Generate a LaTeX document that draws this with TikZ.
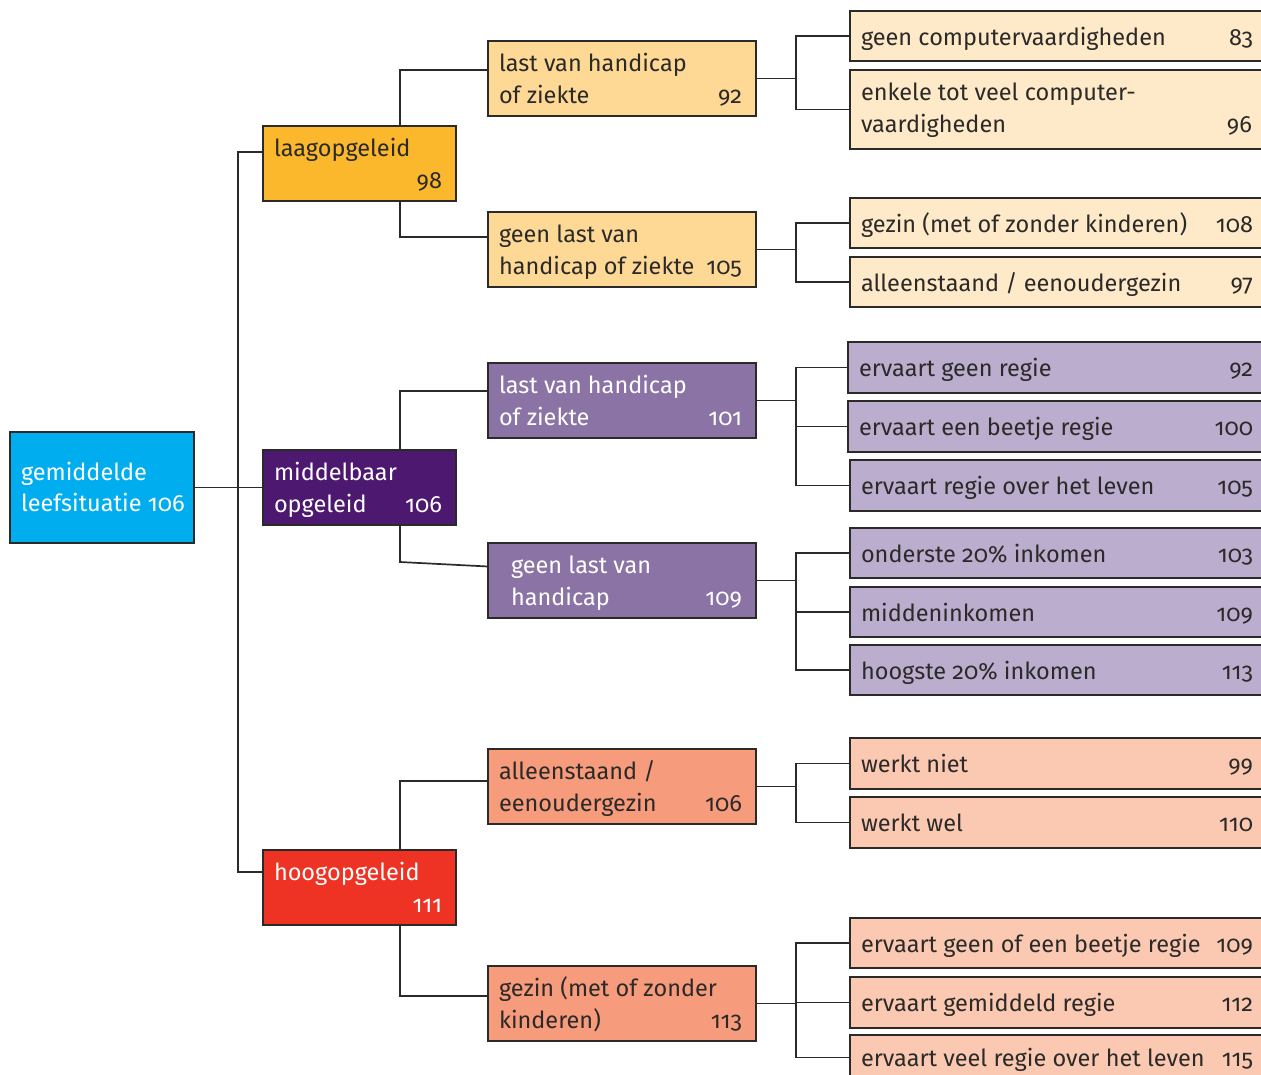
\documentclass[tikz,border=0pt]{standalone}
\usepackage{fontspec}
\setmainfont{Fira Sans}[Numbers=OldStyle]
\usetikzlibrary{calc}
\definecolor{lc}{HTML}{2B2A29}
\definecolor{dk}{HTML}{2B2A29}
\definecolor{cRoot}{HTML}{00AEEF}
\definecolor{cLo}{HTML}{FBB82D}
\definecolor{cLy}{HTML}{FED995}
\definecolor{cLz}{HTML}{FEE9C8}
\definecolor{cMo}{HTML}{4D1870}
\definecolor{cMy}{HTML}{8B74A5}
\definecolor{cMz}{HTML}{BAADCD}
\definecolor{cHo}{HTML}{EE3224}
\definecolor{cHy}{HTML}{F69B7B}
\definecolor{cHz}{HTML}{FBC9B2}
\tikzset{
  box/.style={draw=lc, line width=1.7pt, inner sep=0pt, outer sep=0pt},
  txt/.style={inner sep=0pt, outer sep=0pt, font=\fontsize{23.5}{32}\selectfont},
  conn/.style={draw=lc, line width=1.7pt},
  root/.style={box, fill=cRoot}, root text/.style={txt, text=white},
  lo/.style={box, fill=cLo}, lo text/.style={txt, text=dk},
  ly/.style={box, fill=cLy}, ly text/.style={txt, text=dk},
  lz/.style={box, fill=cLz}, lz text/.style={txt, text=dk},
  mo/.style={box, fill=cMo}, mo text/.style={txt, text=white},
  my/.style={box, fill=cMy}, my text/.style={txt, text=white},
  mz/.style={box, fill=cMz}, mz text/.style={txt, text=dk},
  ho/.style={box, fill=cHo}, ho text/.style={txt, text=white},
  hy/.style={box, fill=cHy}, hy text/.style={txt, text=dk},
  hz/.style={box, fill=cHz}, hz text/.style={txt, text=dk},
}
% two-line box: name, style, x1, y1, x2, y2, line1, line2, number
\newcommand\tbox[9]{%
  \node[#2, anchor=north west, minimum width={(#5-#3)*1pt}, minimum height={(#6-#4)*1pt}] (#1) at (#3,#4) {};
  \node[#2 text, anchor=base west] (#1a) at ({#3+11},{#4+30}) {#7};
  \node[#2 text, anchor=base west] (#1b) at ({#3+11},{#4+62}) {#8};
  \node[#2 text, anchor=base east] (#1n) at ({#5-14},{#4+62}) {#9};
}
% one-line box at right: name, style, x1, y1, y2, text, number
\newcommand\obox[7]{%
  \node[#2, anchor=north west, minimum width={(1266-#3)*1pt}, minimum height={(#5-#4)*1pt}] (#1) at (#3,#4) {};
  \node[#2 text, anchor=base west] (#1a) at ({#3+11},{(#4+#5)/2+9}) {#6};
  \node[#2 text, anchor=base east] (#1n) at (1253,{(#4+#5)/2+9}) {#7};
}
\begin{document}
\begin{tikzpicture}[x=1pt,y=-1pt]
\useasboundingbox[fill=white] (0,0) rectangle (1261,1074);
% root
\node[root, anchor=north west, minimum width=184pt, minimum height=111pt] (root) at (10,432) {};
\node[root text, anchor=base west] (roota) at (21,480) {gemiddelde};
\node[root text, anchor=base west] (rootb) at (21,511) {leefsituatie 106};
% level 1
\tbox{laag}{lo}{263}{126}{456}{201}{laagopgeleid}{}{98}
\tbox{midd}{mo}{263}{450}{456}{525}{middelbaar}{opgeleid}{106}
\tbox{hoog}{ho}{263}{850}{456}{925}{hoogopgeleid}{}{111}
% level 2
\tbox{la}{ly}{488}{41}{756}{116}{last van handicap}{of ziekte}{92}
\tbox{lb}{ly}{488}{212}{756}{287}{geen last van}{handicap of ziekte}{105}
\tbox{ma}{my}{488}{363}{756}{438}{last van handicap}{of ziekte}{101}
\node[my, anchor=north west, minimum width=268pt, minimum height=75pt] (mb) at (488,543) {};
\node[my text, anchor=base west] (mba) at (511,573) {geen last van};
\node[my text, anchor=base west] (mbb) at (511,605) {handicap};
\node[my text, anchor=base east] (mbn) at (742,605) {109};
\tbox{ha}{hy}{488}{749}{756}{824}{alleenstaand /}{eenoudergezin}{106}
\tbox{hb}{hy}{488}{966}{756}{1041}{gezin (met of zonder}{kinderen)}{113}
% level 3
\obox{a1}{lz}{850}{11}{61}{geen computervaardigheden}{83}
\tbox{a2}{lz}{850}{70}{1266}{149}{enkele tot veel computer-}{vaardigheden}{96}
\obox{b1}{lz}{850}{198}{248}{gezin (met of zonder kinderen)}{108}
\obox{b2}{lz}{850}{257}{307}{alleenstaand / eenoudergezin}{97}
\obox{c1}{mz}{848}{342}{393}{ervaart geen regie}{92}
\obox{c2}{mz}{848}{401}{452}{ervaart een beetje regie}{100}
\obox{c3}{mz}{850}{460}{511}{ervaart regie over het leven}{105}
\obox{d1}{mz}{850}{528}{578}{onderste 20\% inkomen}{103}
\obox{d2}{mz}{850}{587}{637}{middeninkomen}{109}
\obox{d3}{mz}{850}{645}{695}{hoogste 20\% inkomen}{113}
\obox{e1}{hz}{850}{738}{789}{werkt niet}{99}
\obox{e2}{hz}{850}{797}{848}{werkt wel}{110}
\obox{f1}{hz}{850}{918}{968}{ervaart geen of een beetje regie}{109}
\obox{f2}{hz}{850}{977}{1028}{ervaart gemiddeld regie}{112}
\obox{f3}{hz}{850}{1035}{1080}{ervaart veel regie over het leven}{115}
% connectors root -> level 1
\coordinate (tt) at (238,152);
\coordinate (tb) at (238,872);
\draw[conn] (root.east) -- (midd.west);
\draw[conn] (laag.west |- tt) -- (tt) -- (tb) -- (hoog.west |- tb);
% level 1 -> level 2
\coordinate (v1) at (400,70);
\coordinate (v2) at (400,237);
\coordinate (v3) at (400,391);
\coordinate (v4) at (400,562);
\coordinate (v5) at (400,781);
\coordinate (v6) at (400,996);
\draw[conn] (laag.north -| v1) -- (v1) -- (la.west |- v1);
\draw[conn] (laag.south -| v2) -- (v2) -- (lb.west |- v2);
\draw[conn] (midd.north -| v3) -- (v3) -- (ma.west |- v3);
\draw[conn] (midd.south -| v4) -- (v4) -- ($(mb.west)+(0,-14)$);
\draw[conn] (hoog.north -| v5) -- (v5) -- (ha.west |- v5);
\draw[conn] (hoog.south -| v6) -- (v6) -- (hb.west |- v6);
% level 2 -> level 3
\path (la.east) ++(40,0) coordinate (j1);
\path (lb.east) ++(40,0) coordinate (j2);
\path (ma.east) ++(40,0) coordinate (j3);
\path (mb.east) ++(40,0) coordinate (j4);
\path (ha.east) ++(40,0) coordinate (j5);
\path (hb.east) ++(40,0) coordinate (j6);
\draw[conn] (la.east) -- (j1);
\draw[conn] (a1.west) -| (j1) |- (a2.west);
\draw[conn] (lb.east) -- (j2);
\draw[conn] (b1.west) -| (j2) |- (b2.west);
\draw[conn] (ma.east) -- (j3);
\draw[conn] (c1.west) -| (j3) |- (c3.west);
\draw[conn] (j3 |- c2.west) -- (c2.west);
\draw[conn] (mb.east) -- (j4);
\draw[conn] (d1.west) -| (j4) |- (d3.west);
\draw[conn] (j4 |- d2.west) -- (d2.west);
\draw[conn] (ha.east) -- (j5);
\draw[conn] (e1.west) -| (j5) |- (e2.west);
\draw[conn] (hb.east) -- (j6);
\draw[conn] (f1.west) -| (j6) |- (f3.west);
\draw[conn] (j6 |- f2.west) -- (f2.west);
\end{tikzpicture}
\end{document}
